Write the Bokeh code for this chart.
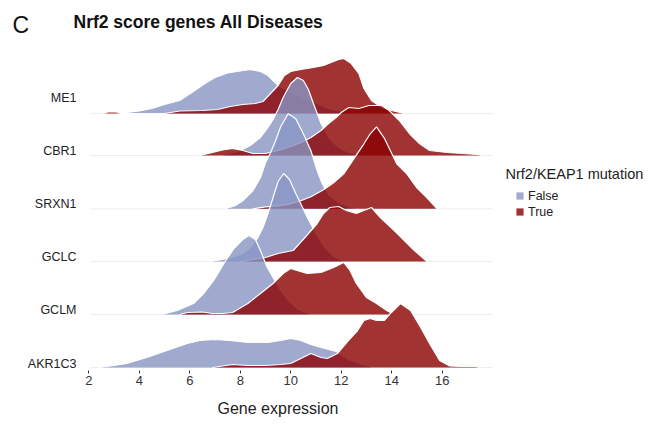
from bokeh.plotting import figure
from bokeh.models import Range1d, FixedTicker, Label, Legend, LegendItem, Title
from bokeh.embed import file_html
from bokeh.resources import INLINE

# ---------------- data ----------------
genes = ["AKR1C3", "GCLM", "GCLC", "SRXN1", "CBR1", "ME1"]      # bottom -> top
rows = [0, 1, 2, 3, 4, 5]
baselines = [-0.075, 0.921, 1.917, 2.908, 3.910, 4.699]           # ridge baselines (row units)
baseline_span = [2.07, 18.0]
x_ticks = [2, 4, 6, 8, 10, 12, 14, 16]
status = ["False", "True"]

# density curves (arbitrary units; 53.2 units = one ridge row)
me1_false_x = [3.2, 4.0, 4.5, 5.0, 5.6, 6.2, 6.6, 7.0, 7.5, 8.0, 8.4, 8.8, 9.1, 9.5, 10.0, 10.5, 11.0, 11.5, 12.0, 12.3]
me1_false_d = [0, 2.5, 5, 9, 13, 23, 30, 36, 40.5, 42.5, 44, 42, 38, 28, 21, 15, 10, 5, 2, 0]
me1_true_x = [2.6, 2.75, 3.1, 3.25, 5.0, 5.6, 6.5, 7.1, 7.6, 8.1, 8.6, 8.9, 9.2, 9.5, 9.75, 10.0, 10.4, 10.9, 11.3, 11.6, 11.9, 12.1, 12.4, 12.7, 12.9, 13.2, 13.6, 14.0, 14.5]
me1_true_d = [0, 1.5, 1.5, 0, 0, 2.5, 3, 4, 7, 9, 10, 12, 20, 28, 38, 42, 44, 46, 48, 51, 54, 55, 50, 40, 25, 13, 6, 3, 0]

cbr1_false_x = [7.2, 7.6, 8.0, 8.4, 8.8, 9.1, 9.3, 9.5, 9.7, 10.0, 10.27, 10.5, 10.7, 10.9, 11.2, 11.5, 11.9, 12.3, 12.7]
cbr1_false_d = [0, 2, 5, 10, 18, 28, 36, 46, 58, 72, 78, 75, 66, 52, 32, 18, 8, 3, 0]
cbr1_true_x = [6.4, 6.9, 7.3, 7.7, 8.1, 8.5, 9.0, 9.5, 10.0, 10.5, 10.8, 11.2, 11.5, 11.8, 12.0, 12.3, 12.7, 13.1, 13.6, 13.9, 14.3, 14.7, 15.1, 15.5, 16.2, 16.8, 17.4, 17.6]
cbr1_true_d = [0, 3, 5.5, 7, 5, 2, 2, 5, 9, 14, 18, 25, 32, 38, 43, 48, 47, 50, 50, 45, 35, 22, 12, 5, 3, 2, 1, 0]

srxn1_false_x = [7.4, 7.8, 8.1, 8.5, 8.8, 9.0, 9.2, 9.4, 9.6, 9.9, 10.2, 10.5, 10.8, 11.05, 11.25, 11.5, 11.9, 12.3, 12.7]
srxn1_false_d = [0, 3, 8, 18, 31, 46, 56, 68, 82, 95, 90, 75, 58, 38, 25, 14, 6, 2, 0]
srxn1_true_x = [8.5, 9.0, 9.5, 10.0, 10.4, 10.8, 11.3, 11.7, 12.1, 12.5, 12.9, 13.15, 13.4, 13.7, 13.95, 14.2, 14.6, 15.0, 15.4, 15.8]
srxn1_true_d = [0, 2, 3, 5, 8, 12, 19, 26, 35, 50, 65, 75, 82, 71, 58, 45, 35, 21, 11, 0]

gclc_false_x = [6.8, 7.3, 7.8, 8.1, 8.4, 8.7, 8.9, 9.1, 9.3, 9.5, 9.72, 9.95, 10.2, 10.45, 10.7, 11.0, 11.3, 11.7, 12.1]
gclc_false_d = [0, 2, 5, 8, 14, 24, 34, 48, 64, 80, 88, 82, 68, 55, 42, 28, 16, 5, 0]
gclc_true_x = [8.0, 8.5, 9.0, 9.5, 10.1, 10.6, 11.05, 11.3, 11.55, 11.9, 12.2, 12.6, 12.9, 13.2, 13.55, 14.1, 14.5, 14.9, 15.4]
gclc_true_d = [0, 2, 4, 8, 11, 25, 38, 48, 54, 55, 51, 48, 51, 54, 44, 31, 21, 11, 0]

gclm_false_x = [4.9, 5.5, 6.15, 6.55, 6.95, 7.35, 7.75, 8.1, 8.35, 8.6, 8.8, 9.07, 9.3, 9.6, 9.9, 10.3, 10.8]
gclm_false_d = [0, 4, 11, 21, 34, 51, 66, 75, 79, 75, 64, 47, 37, 24, 14, 5, 0]
gclm_true_x = [5.6, 5.9, 6.5, 6.9, 7.3, 7.7, 8.3, 8.8, 9.3, 9.7, 10.0, 10.25, 10.65, 11.2, 11.7, 12.1, 12.35, 12.6, 13.0, 13.4, 13.8, 14.1]
gclm_true_d = [0, 2, 2.5, 1, 1, 2, 11, 21, 31, 41, 46, 44, 41, 42, 47, 52, 44, 31, 17, 11, 4, 0]

akr1c3_false_x = [2.4, 3.0, 3.5, 4.3, 5.1, 5.9, 6.4, 7.0, 7.6, 8.3, 9.1, 9.6, 10.0, 10.4, 10.8, 11.2, 11.8, 12.3, 12.8, 13.3]
akr1c3_false_d = [0, 2, 4, 10, 17, 24, 27, 28, 27, 25, 25, 27, 29, 27, 23, 20, 16, 8, 3, 0]
akr1c3_true_x = [6.9, 7.7, 8.3, 9.0, 9.6, 10.0, 10.4, 10.8, 11.2, 11.45, 11.85, 12.25, 12.65, 12.9, 13.15, 13.4, 13.7, 13.95, 14.35, 14.75, 15.15, 15.5, 15.9, 16.3, 16.8, 17.3, 17.5]
akr1c3_true_d = [0, 3, 2, 2, 3, 4, 9, 14, 10, 9, 14, 26, 37, 47, 49, 47, 47, 54, 64, 57, 40, 24, 7, 1.5, 1, 1, 0]

curves = {
    "ME1": (me1_false_x, me1_false_d, me1_true_x, me1_true_d),
    "CBR1": (cbr1_false_x, cbr1_false_d, cbr1_true_x, cbr1_true_d),
    "SRXN1": (srxn1_false_x, srxn1_false_d, srxn1_true_x, srxn1_true_d),
    "GCLC": (gclc_false_x, gclc_false_d, gclc_true_x, gclc_true_d),
    "GCLM": (gclm_false_x, gclm_false_d, gclm_true_x, gclm_true_d),
    "AKR1C3": (akr1c3_false_x, akr1c3_false_d, akr1c3_true_x, akr1c3_true_d),
}
DENS_PER_ROW = 53.2

# ---------------- styling ----------------
FONT = "Liberation Sans"
BLUE = "#8895c3"
RED = "#8b0000"
ALPHA = 0.8

W, H = 653, 431
BL, BT, BB = 0, 0, 61
PX_PER_X = 25.24
PX_PER_ROW = 53.2
x0 = 2 - (88.3 - BL) / PX_PER_X
x1 = x0 + (W - BL) / PX_PER_X
y0 = -7 / PX_PER_ROW
y1 = y0 + (H - BT - BB) / PX_PER_ROW

p = figure(width=W, height=H, output_backend="svg", toolbar_location=None,
           x_range=Range1d(x0, x1), y_range=Range1d(y0, y1),
           min_border_left=BL, min_border_right=0, min_border_top=BT, min_border_bottom=BB)
p.outline_line_color = None
p.xgrid.visible = False
p.ygrid.visible = False
p.yaxis.visible = False
p.background_fill_color = "white"

# image pixels -> data (for text placement inside the frame)
def dx(px):
    return x0 + (px - BL) / PX_PER_X

def dy(py):
    return y0 + (H - BB - py) / PX_PER_ROW

# baselines
for b in baselines:
    p.line(baseline_span, [b, b], line_color="#ededed", line_width=1)

legend_renderers = {}
for gene in reversed(genes):  # top ridge first
    i = genes.index(gene)
    base = baselines[i]
    fx, fd, tx, td = curves[gene]
    for xs, ds, col, lab in ((fx, fd, BLUE, "False"), (tx, td, RED, "True")):
        top = [base + d / DENS_PER_ROW for d in ds]
        r = p.varea(x=xs, y1=[base] * len(xs), y2=top, fill_color=col, fill_alpha=ALPHA)
        p.line(xs, top, line_color="white", line_width=1.2)
        legend_renderers.setdefault(lab, r)

# x axis
p.xaxis.ticker = FixedTicker(ticks=x_ticks)
p.xaxis.axis_line_color = None
p.xaxis.major_tick_in = 0
p.xaxis.major_tick_out = 3
p.xaxis.minor_tick_line_color = None
p.xaxis.major_tick_line_color = "#333333"
p.xaxis.major_label_text_font = FONT
p.xaxis.major_label_text_font_size = "13px"
p.xaxis.major_label_text_color = "#333333"
p.xaxis.major_label_standoff = 2

# x axis title (below, placed from the frame's left edge)
p.add_layout(Title(text="Gene expression", align="left", offset=217 - BL, standoff=21,
                   text_font=FONT, text_font_size="16px", text_font_style="normal",
                   text_color="#222222"), "below")

# row labels (y axis categories)
for r, g in zip(rows, genes):
    p.add_layout(Label(x=dx(76), y=r, text=g, text_font=FONT, text_font_size="12.5px",
                       text_color="#222222", text_align="right", text_baseline="middle"))

# title texts
p.add_layout(Label(x=dx(12), y=dy(24), text="C", text_font=FONT, text_font_size="23px",
                   text_color="#111111", text_align="left", text_baseline="middle"))
p.add_layout(Label(x=dx(73), y=dy(21), text="Nrf2 score genes All Diseases", text_font=FONT,
                   text_font_size="17.5px", text_font_style="bold", text_color="#111111",
                   text_align="left", text_baseline="middle"))
p.add_layout(Label(x=dx(505), y=dy(173), text="Nrf2/KEAP1 mutation", text_font=FONT,
                   text_font_size="14.5px", text_color="#222222",
                   text_align="left", text_baseline="middle"))

legend = Legend(items=[LegendItem(label=s, renderers=[legend_renderers[s]]) for s in status],
                location=(515 - BL, H - BB - 219), orientation="vertical",
                glyph_width=9, glyph_height=9, label_height=15, spacing=1, label_standoff=4,
                padding=0, margin=0, border_line_color=None, background_fill_alpha=0,
                label_text_font=FONT, label_text_font_size="12.5px", label_text_color="#222222")
p.add_layout(legend)

open("out.html", "w").write(file_html(p, INLINE))
